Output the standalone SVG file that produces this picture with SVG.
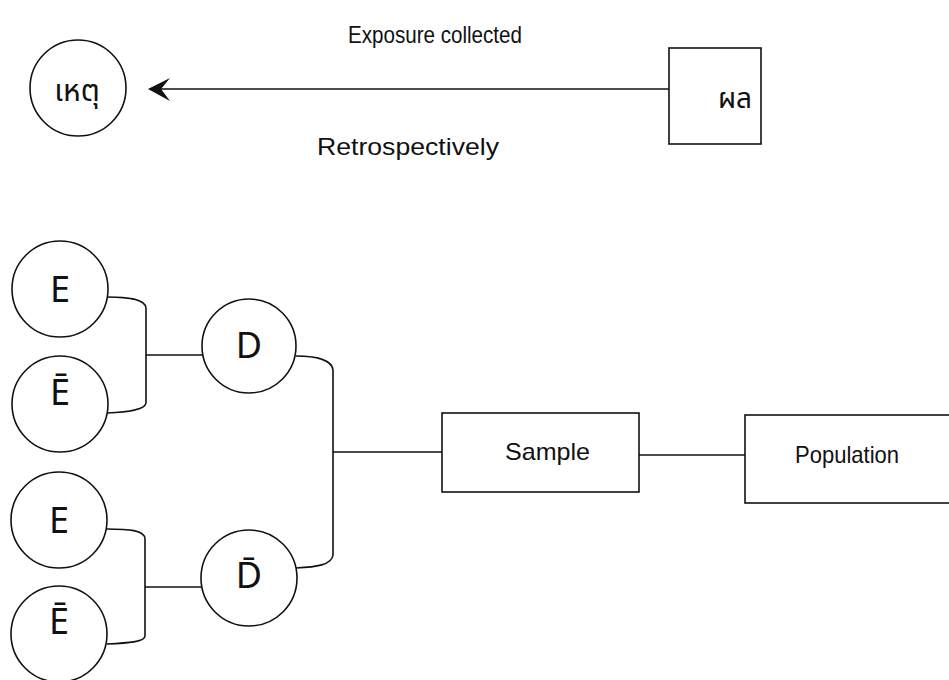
<svg xmlns="http://www.w3.org/2000/svg" width="949" height="680" viewBox="0 0 949 680">
<style>
.s{fill:none;stroke:#111;stroke-width:1.6}
.n{fill:#fff;stroke:#111;stroke-width:1.6}
.t{font-family:"Liberation Sans",Arial,sans-serif;fill:#111;font-size:24px}
.l{font-family:"Noto Sans","DejaVu Sans",sans-serif;fill:#111;font-size:36px;text-anchor:middle}
.th{font-family:"Noto Sans Thai","Noto Sans","DejaVu Sans",sans-serif;fill:#111;text-anchor:middle}
</style>
<rect width="949" height="680" fill="#fff"/>
<g id="connectors">
<line class="s" x1="160" y1="89" x2="669" y2="89"/>
<path d="M148,89 L170,78 L161,89 L170,101 Z" fill="#111"/>
<path class="s" d="M107,297 C128,297 145,299 146,308 L146,403 C145,410 128,412 107,413"/>
<line class="s" x1="146" y1="355" x2="203" y2="355"/>
<path class="s" d="M107,529 C128,529 145,530 145,539 L145,636 C145,642 128,643 107,644"/>
<line class="s" x1="145" y1="587" x2="202" y2="587"/>
<path class="s" d="M296,356 C316,356 332,360 333,370 L333,555 C332,565 316,567 296,568"/>
<line class="s" x1="333" y1="452" x2="442" y2="452"/>
<line class="s" x1="639" y1="455" x2="745" y2="455"/>
</g>
<g id="label-exposure"><text class="t" x="348" y="43" textLength="174" lengthAdjust="spacingAndGlyphs">Exposure collected</text></g>
<g id="label-retro"><text class="t" x="317" y="155" textLength="182" lengthAdjust="spacingAndGlyphs">Retrospectively</text></g>
<g id="cause"><circle class="n" cx="78" cy="88" r="48"/><text class="th" x="77" y="101" font-size="30">เหตุ</text></g>
<g id="effect"><rect class="n" x="669" y="48" width="92" height="96"/><text class="th" x="735" y="108" font-size="28">ผล</text></g>
<g id="e1"><circle class="n" cx="60" cy="289" r="48"/><text class="l" x="60" y="302">E</text></g>
<g id="ebar1"><circle class="n" cx="60" cy="404" r="48"/><text class="l" x="60" y="405">Ē</text></g>
<g id="e2"><circle class="n" cx="59" cy="520" r="48"/><text class="l" x="59" y="533">E</text></g>
<g id="ebar2"><circle class="n" cx="59" cy="634" r="48"/><text class="l" x="59" y="634">Ē</text></g>
<g id="d"><circle class="n" cx="249" cy="346" r="47"/><text class="l" x="249" y="358">D</text></g>
<g id="dbar"><circle class="n" cx="249" cy="578" r="48"/><text class="l" x="249" y="588">D̄</text></g>
<g id="sample"><rect class="n" x="442" y="413" width="197" height="79"/><text class="t" x="505" y="460" textLength="85" lengthAdjust="spacingAndGlyphs">Sample</text></g>
<g id="population"><rect class="n" x="745" y="415" width="220" height="88"/><text class="t" x="795" y="463" textLength="104" lengthAdjust="spacingAndGlyphs">Population</text></g>
</svg>
